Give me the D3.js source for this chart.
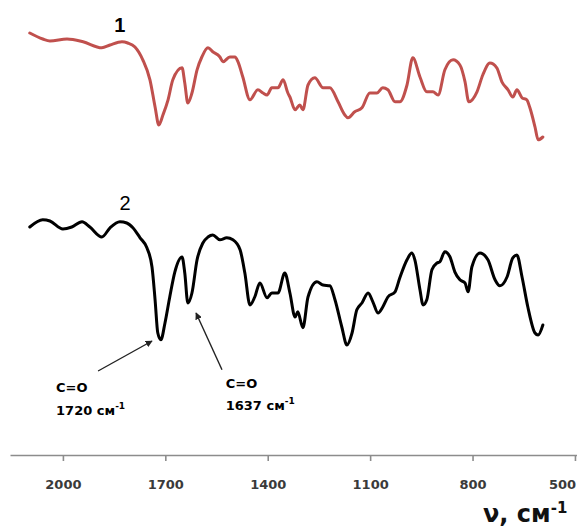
<!DOCTYPE html>
<html>
<head>
<meta charset="utf-8">
<script src="https://cdn.jsdelivr.net/npm/d3@7"></script>
<style>
  html, body { margin: 0; padding: 0; background: #fff; }
  svg { display: block; }
</style>
</head>
<body>
<svg id="chart" width="577" height="532"></svg>
<script>
// Wavenumbers (cm-1) and transmittance (a.u., curves offset)
const spectrum1 = [
  [2097,105.5],[2059,104],[2038,103.5],[1988,104],[1941,103.3],[1886,101.8],[1862,102.5],
  [1827,103.3],[1810,103],[1789,102],[1766,98.8],[1745,93.8],[1730,87],[1719,82.5],
  [1707,85],[1692,88.8],[1678,93.8],[1651,96.8],[1643,93],[1634,88],[1622,90.5],
  [1607,96.3],[1593,99.5],[1575,101.8],[1561,100.8],[1540,99.5],[1531,98.3],[1511,99.5],
  [1496,99.5],[1487,98.3],[1473,94.5],[1452,88.8],[1429,91.3],[1414,90.5],[1402,90],
  [1388,91.8],[1370,91.8],[1355,93.8],[1341,90.5],[1335,89.5],[1320,86.3],[1306,87.5],
  [1297,86.3],[1282,92.5],[1262,94.3],[1238,91.8],[1218,91.8],[1194,88.3],[1174,85],
  [1165,84.3],[1145,85.8],[1124,86.8],[1101,90.5],[1080,90.5],[1063,91.8],[1048,91.3],
  [1027,88.3],[1013,88.3],[992,92.5],[975,99.3],[954,94.5],[934,90.8],[916,90.8],
  [901,90],[881,96.3],[857,98.8],[837,97.5],[822,93.3],[811,88.3],[787,90.8],[770,95],
  [749,98],[729,96.8],[714,93.3],[696,91.3],[682,89.5],[670,91.3],[655,89.3],[641,88.8],
  [632,86.8],[617,82],[608,78.8],[594,79.5]
];
const spectrum2 = [
  [2097,57],[2059,58.8],[2038,58.5],[2000,56.5],[1974,57],[1944,58.3],[1921,57],
  [1886,54.5],[1862,56.8],[1833,58.3],[1813,58],[1795,56.8],[1774,54.3],[1754,51.8],
  [1739,47],[1730,38.8],[1722,30.5],[1713,28.8],[1701,33],[1687,39.5],[1672,45.8],
  [1651,49.5],[1643,45.5],[1634,38],[1622,40.5],[1607,48.8],[1590,53],[1575,54.5],
  [1561,55],[1540,53.8],[1520,54.3],[1502,53.8],[1481,51.3],[1467,45.5],[1452,37.5],
  [1438,39.5],[1423,43],[1402,39.3],[1388,40.5],[1370,40.5],[1350,45.5],[1335,40.5],
  [1320,34.5],[1312,35.8],[1297,31.8],[1282,39.5],[1256,43.3],[1238,42.5],[1218,42.3],
  [1203,38.8],[1183,32],[1168,27.5],[1153,30.5],[1139,36.3],[1124,38],[1106,40.5],
  [1092,38.3],[1077,35.5],[1063,37],[1048,39.5],[1027,40.8],[1013,44.3],[992,48.8],
  [978,50.5],[969,48.8],[954,41.3],[945,37.5],[934,38.8],[919,46.3],[904,48],[896,48.3],
  [881,50.8],[866,49.5],[852,45.8],[837,43.8],[822,43],[813,40.8],[802,47],[778,50.5],
  [755,48.8],[734,43.8],[720,42.3],[699,44.5],[682,49.3],[670,50],[655,44.5],[638,37],
  [617,30.5],[608,30],[594,32.5]
];
const xTicks = [2000, 1700, 1400, 1100, 800, 500];
const curveLabels = [
  {text: "1", x: 1833, y: 105.75, bold: true},
  {text: "2", x: 1818, y: 61.25, bold: false}
];
const annotations = [
  {peak: "1720", tip: [1739, 28.5], tail: [1897, 21], line1: [2020, 15.75], line2: [2020, 10]},
  {peak: "1637", tip: [1610, 35.5], tail: [1534, 21.3], line1: [1523, 16.75], line2: [1523, 11.25]}
];

const svg = d3.select("#chart");
const x = d3.scaleLinear().domain([2155, 494]).range([10, 577]);
const y = d3.scaleLinear().domain([0, 110]).range([455, 15]);

svg.append("defs").append("marker")
  .attr("id", "arrow").attr("viewBox", "0 0 10 10")
  .attr("refX", 9).attr("refY", 5)
  .attr("markerWidth", 7).attr("markerHeight", 7)
  .attr("markerUnits", "userSpaceOnUse")
  .attr("orient", "auto")
  .append("path").attr("d", "M0,0 L10,5 L0,10 z").attr("fill", "#222");

// axis
const axis = d3.axisBottom(x).tickValues(xTicks).tickFormat(d3.format("d")).tickSize(6).tickSizeOuter(0);
const gx = svg.append("g").attr("transform", `translate(0,${y(0)})`).call(axis);
gx.select(".domain").attr("stroke", "#8c8c8c").attr("stroke-width", 1.6);
gx.selectAll(".tick line").attr("stroke", "#8c8c8c").attr("stroke-width", 1.6);
gx.selectAll(".tick text")
  .attr("y", 34).attr("dy", 0)
  .attr("fill", "#3a3a3a")
  .style("font-family", "DejaVu Sans").style("font-weight", "bold").style("font-size", "13px");
// last label sits inside the right edge, as in the reference
gx.selectAll(".tick text").filter(d => d === 500).attr("x", -13);

// axis title
const title = svg.append("text")
  .attr("x", 483).attr("y", 522)
  .attr("fill", "#111")
  .style("font-family", "DejaVu Sans").style("font-weight", "bold").style("font-size", "24px");
title.append("tspan").text("ν, см");
title.append("tspan").attr("dy", -9).style("font-size", "15px").text("-1");

const line = d3.line().x(d => x(d[0])).y(d => y(d[1])).curve(d3.curveMonotoneX);

svg.append("path").datum(spectrum1).attr("d", line)
  .attr("fill", "none").attr("stroke", "#C0504D").attr("stroke-width", 3)
  .attr("stroke-linejoin", "round").attr("stroke-linecap", "round");
svg.append("path").datum(spectrum2).attr("d", line)
  .attr("fill", "none").attr("stroke", "#000").attr("stroke-width", 3)
  .attr("stroke-linejoin", "round").attr("stroke-linecap", "round");

svg.selectAll(".clabel").data(curveLabels).join("text")
  .attr("class", "clabel")
  .attr("x", d => x(d.x)).attr("y", d => y(d.y))
  .attr("text-anchor", "middle")
  .style("font-family", "Liberation Sans")
  .style("font-weight", d => d.bold ? "bold" : "normal")
  .style("font-size", "20px")
  .text(d => d.text);

// annotations
const ann = svg.selectAll(".ann").data(annotations).join("g").attr("class", "ann");
ann.append("line")
  .attr("x1", d => x(d.tail[0])).attr("y1", d => y(d.tail[1]))
  .attr("x2", d => x(d.tip[0])).attr("y2", d => y(d.tip[1]))
  .attr("stroke", "#222").attr("stroke-width", 1.4)
  .attr("marker-end", "url(#arrow)");
ann.append("text")
  .attr("x", d => x(d.line1[0])).attr("y", d => y(d.line1[1]))
  .style("font-family", "DejaVu Sans").style("font-weight", "bold").style("font-size", "13px")
  .text("C=O");
const t2 = ann.append("text")
  .attr("x", d => x(d.line2[0])).attr("y", d => y(d.line2[1]))
  .style("font-family", "DejaVu Sans").style("font-weight", "bold").style("font-size", "13px");
t2.append("tspan").text(d => d.peak + " см");
t2.append("tspan").attr("dy", -6).style("font-size", "9px").text("-1");
</script>
</body>
</html>
